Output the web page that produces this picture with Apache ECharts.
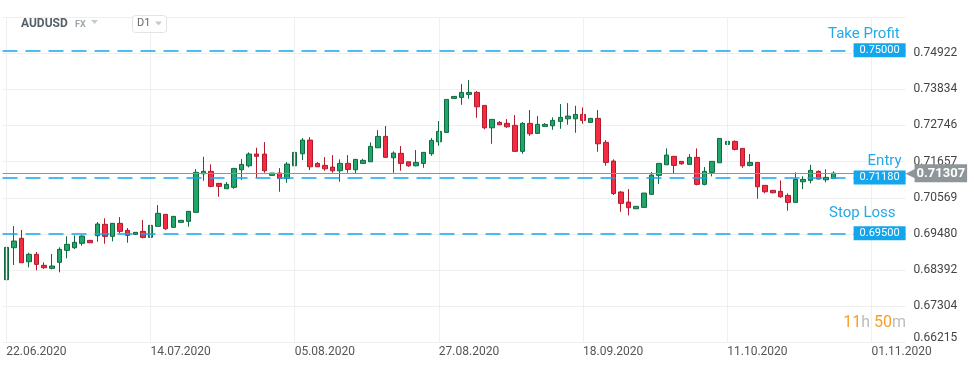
<!DOCTYPE html>
<html><head><meta charset="utf-8">
<script src="https://cdn.jsdelivr.net/npm/echarts@6/dist/echarts.min.js"></script>
<style>html,body{margin:0;padding:0;background:#fff}#c{width:974px;height:368px}</style>
</head><body><div id="c"></div>
<script>
const symbolName = 'AUDUSD';
const xTickLabels = ['22.06.2020','14.07.2020','05.08.2020','27.08.2020','18.09.2020','11.10.2020','01.11.2020'];
const gridStep = 19;
const slotCount = 119;
const yTickLabels = ['0.66215','0.67304','0.68392','0.69480','0.70569','0.71657','0.72746','0.73834','0.74922'];
const levelNames = ['Take Profit','Entry','Stop Loss'];
const levelValues = [0.75000, 0.71180, 0.69500];
const lastPrice = 0.71307;

const opens = [0.68107,0.69068,0.69350,0.68647,0.68870,0.68539,0.68449,0.68629,0.68990,0.69068,
0.69200,0.69290,0.69428,0.69771,0.69410,0.69801,0.69590,0.69470,0.69560,0.69380,
0.69711,0.70071,0.69681,0.69831,0.69861,0.70131,0.71290,0.71362,0.71002,0.70840,
0.70882,0.71410,0.71530,0.71882,0.71882,0.71242,0.71311,0.71152,0.71530,0.71891,
0.72302,0.71602,0.71542,0.71491,0.71380,0.71602,0.71410,0.71602,0.71650,0.72071,
0.72413,0.71771,0.71903,0.71650,0.71530,0.71602,0.71891,0.72251,0.72533,0.73554,
0.73584,0.73675,0.73735,0.73344,0.72672,0.72834,0.72804,0.72744,0.71963,0.72804,
0.72503,0.72714,0.72732,0.72864,0.72942,0.72942,0.73074,0.72834,0.72954,0.72233,
0.71672,0.70741,0.70440,0.70239,0.70281,0.70672,0.71242,0.71560,0.71813,0.71663,
0.71572,0.71783,0.70972,0.71332,0.71620,0.72173,0.72263,0.72053,0.71542,0.71632,
0.70942,0.70792,0.70762,0.70641,0.70431,0.71050,0.71092,0.71362,0.71110,0.71152];
const closes = [0.69080,0.69269,0.68617,0.68870,0.68569,0.68467,0.68518,0.69020,0.69170,0.69230,
0.69419,0.69218,0.69780,0.69410,0.69801,0.69560,0.69440,0.69530,0.69380,0.69741,
0.70101,0.69638,0.70011,0.69891,0.70161,0.71332,0.71362,0.70912,0.70912,0.70972,
0.71452,0.71572,0.71882,0.71813,0.71380,0.71311,0.71152,0.71581,0.71933,0.72302,
0.71500,0.71500,0.71440,0.71380,0.71602,0.71422,0.71723,0.71693,0.72113,0.72413,
0.71783,0.71912,0.71602,0.71530,0.71632,0.71933,0.72293,0.72563,0.73524,0.73614,
0.73735,0.73735,0.73302,0.72672,0.72924,0.72762,0.72702,0.71963,0.72804,0.72491,
0.72774,0.72774,0.72894,0.72984,0.73023,0.73074,0.72894,0.72954,0.72191,0.71632,
0.70696,0.70401,0.70269,0.70311,0.70711,0.71251,0.71602,0.71852,0.71542,0.71590,
0.71783,0.70972,0.71362,0.71663,0.72353,0.72263,0.72023,0.71530,0.71632,0.70900,
0.70750,0.70720,0.70599,0.70431,0.71122,0.71122,0.71392,0.71131,0.71182,0.71307];
const lows = [0.68077,0.68548,0.68610,0.68479,0.68389,0.68437,0.68419,0.68329,0.68750,0.69029,
0.69128,0.69209,0.69248,0.69188,0.69260,0.69500,0.69218,0.69458,0.69350,0.69188,
0.69711,0.69608,0.69668,0.69825,0.69699,0.70131,0.71080,0.70882,0.70599,0.70840,
0.70840,0.71110,0.71482,0.71161,0.71320,0.71242,0.70750,0.71020,0.71500,0.71702,
0.71401,0.71500,0.71380,0.71320,0.71050,0.71320,0.71281,0.71602,0.71650,0.72071,
0.71783,0.71320,0.71380,0.71500,0.71512,0.71470,0.71831,0.72131,0.72533,0.73554,
0.73362,0.73542,0.72972,0.72623,0.72191,0.72762,0.72672,0.71963,0.71891,0.72431,
0.72503,0.72714,0.72611,0.72641,0.72762,0.72521,0.72792,0.72834,0.71951,0.71530,
0.70650,0.70149,0.70041,0.70239,0.70281,0.70672,0.70981,0.71560,0.71290,0.71560,
0.71572,0.70942,0.70942,0.71212,0.71620,0.72173,0.71993,0.71470,0.71512,0.70539,
0.70702,0.70702,0.70569,0.70179,0.70431,0.70831,0.71002,0.71131,0.71032,0.71152];
const highs = [0.69200,0.69720,0.69599,0.68918,0.68939,0.68629,0.68879,0.69080,0.69410,0.69440,
0.69440,0.69299,0.69840,0.69951,0.69801,0.69990,0.69660,0.69539,0.69900,0.69741,
0.70350,0.70071,0.70020,0.69900,0.70161,0.71431,0.71801,0.71572,0.71011,0.71041,
0.71452,0.71732,0.71933,0.72071,0.72242,0.71311,0.71461,0.71641,0.72362,0.72362,
0.72392,0.71641,0.71792,0.71852,0.71723,0.71852,0.71723,0.71741,0.72233,0.72602,
0.72723,0.71963,0.72122,0.71650,0.72002,0.71933,0.72362,0.72873,0.73524,0.73614,
0.73984,0.74104,0.73774,0.73344,0.72924,0.72873,0.72933,0.73053,0.72843,0.73203,
0.73023,0.72813,0.72984,0.73383,0.73413,0.73332,0.73284,0.72954,0.73203,0.72302,
0.71723,0.70771,0.70831,0.70311,0.70711,0.71341,0.71602,0.72053,0.71813,0.71663,
0.71882,0.72053,0.71491,0.71663,0.72353,0.72323,0.72293,0.72053,0.71882,0.71632,
0.70942,0.70792,0.71092,0.70702,0.71332,0.71212,0.71560,0.71392,0.71422,0.71362];

const categories = Array.from({length: slotCount}, (_, i) => String(i));
const gridIdx = categories.filter((_, i) => i % gridStep === 0);
const ohlc = opens.map((o, i) => [o, closes[i], lows[i], highs[i]]);

const BLUE = '#14a6ec';
const GREY = '#8e9699';
const textDist = [[6, 9], [4, 9], [10, 13]];

const chart = echarts.init(document.getElementById('c'), null, {renderer: 'canvas'});
chart.setOption({
  animation: false,
  textStyle: {fontFamily: 'Roboto'},
  grid: {left: 2.5, right: 68.4, top: 17, bottom: 25.3, containLabel: false},
  xAxis: {
    type: 'category', data: categories, boundaryGap: true,
    axisLine: {show: false}, axisTick: {show: false}, splitLine: {show: false},
    axisLabel: {
      interval: (i) => i % gridStep === 0,
      formatter: (v, i) => xTickLabels[i / gridStep] || '',
      align: 'left', color: '#555', fontSize: 12, margin: 3
    }
  },
  yAxis: {
    type: 'value', position: 'right', min: 0.66215, max: 0.76, interval: 0.01088375,
    axisLine: {show: false}, axisTick: {show: false},
    splitLine: {lineStyle: {color: '#efefef', width: 1}},
    axisLabel: {
      margin: 8, color: '#444', fontSize: 12,
      formatter: (v, i) => i === 0 ? '{lo|' + yTickLabels[0] + '}' : (yTickLabels[i] || ''),
      rich: {lo: {color: '#444', fontSize: 12, padding: [0, 0, 10, 0]}}
    }
  },
  series: [
    {
      type: 'line', data: [], z: 1, silent: true,
      markLine: {
        symbol: ['none', 'none'], silent: true, animation: false,
        label: {show: false},
        lineStyle: {color: '#efefef', type: 'solid', width: 1},
        data: gridIdx.map(c => ({xAxis: c}))
      }
    },
    {
      type: 'candlestick', data: ohlc, z: 2, barWidth: 5,
      itemStyle: {
        color: '#22a56a', color0: '#f42b42',
        borderColor: '#0f6a3f', borderColor0: '#b01b2d', borderWidth: 1
      },
      markLine: {
        symbol: ['none', 'none'], silent: true, animation: false, precision: 5,
        data: [
          ...levelValues.map((v) => ({
            yAxis: v,
            lineStyle: {color: BLUE, type: [15, 8], width: 1.5},
            label: {show: true, position: 'insideEnd', distance: 0,
              formatter: () => v.toFixed(5),
              backgroundColor: BLUE, color: '#fff', fontSize: 11, padding: [2, 6, 1, 6]}
          })),
          ...levelValues.map((v, i) => ({
            yAxis: v,
            lineStyle: {color: 'rgba(0,0,0,0)', width: 1},
            label: {show: true, position: 'insideEndTop', distance: textDist[i],
              formatter: () => levelNames[i], color: '#26a9e6', fontSize: 15}
          })),
          {
            yAxis: lastPrice,
            lineStyle: {color: GREY, type: 'solid', width: 1},
            label: {show: true, position: 'end', distance: 0,
              formatter: () => '{arr|\u25C0}{val|' + lastPrice.toFixed(5) + '}',
              rich: {
                arr: {color: GREY, fontSize: 13, fontFamily: 'DejaVu Sans', padding: [0, -1, 0, 0]},
                val: {backgroundColor: GREY, color: '#fff', fontWeight: 'bold', fontSize: 13, padding: [3, 2, 2, 2]}
              }}
          }
        ]
      }
    }
  ],
  graphic: [
    {type: 'text', z: 100, left: 21, top: 18, style: {text: symbolName, font: 'bold 12px Roboto', fill: '#56606a'}},
    {type: 'text', z: 100, left: 75, top: 20, style: {text: 'FX', font: 'bold 9px Roboto', fill: '#9ca6ad'}},
    {type: 'polygon', z: 100, shape: {points: [[91, 20], [98, 20], [94.5, 24]]}, style: {fill: '#c9c9c9'}},
    {type: 'rect', z: 100, shape: {x: 132.5, y: 15.5, width: 34, height: 17, r: 3}, style: {fill: '#fff', stroke: '#e3e3e3'}},
    {type: 'text', z: 101, left: 137, top: 18, style: {text: 'D1', font: '11px Roboto', fill: '#666'}},
    {type: 'polygon', z: 101, shape: {points: [[155, 21.5], [162, 21.5], [158.5, 25.5]]}, style: {fill: '#c9c9c9'}},
    {type: 'text', z: 100, right: 68, top: 315, style: {
      text: '{o|11}{g|h} {o|50}{g|m}', fontSize: 16, fontFamily: 'Roboto',
      rich: {o: {fill: '#f6a02c', fontSize: 16, fontFamily: 'Roboto'}, g: {fill: '#bdbdbd', fontSize: 16, fontFamily: 'Roboto'}}
    }}
  ]
});
</script></body></html>
